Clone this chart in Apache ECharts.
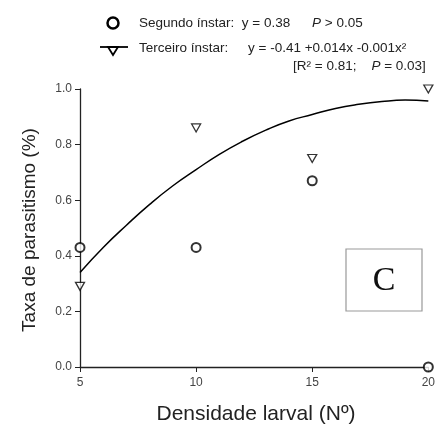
<!DOCTYPE html>
<html lang="pt">
<head>
    <meta charset="UTF-8">
    <title>Taxa de parasitismo</title>
    <script type="text/javascript" src="https://cdn.jsdelivr.net/npm/echarts@6/dist/echarts.min.js"></script>
    <style>
        html, body { margin: 0; padding: 0; background: #fff; }
    </style>
</head>
<body>
    <div id="main" style="width: 438px;height:432px;"></div>
    <script type="text/javascript">

        // densidade larval
        var densidade = [5, 10, 15, 20];
        // segundo instar (circulos)
        var segundo = [0.43, 0.43, 0.67, 0.0];
        // terceiro instar (triangulos)
        var terceiro = [0.29, 0.86, 0.75, 1.0];
        // curva ajustada
        var curvaX = [5, 6, 7, 8, 9, 10, 11, 12, 13, 14, 15, 16, 17, 18, 19, 20];
        var curvaY = [0.34, 0.43, 0.51, 0.585, 0.652, 0.71, 0.765, 0.812, 0.852, 0.885, 0.908, 0.93, 0.945, 0.955, 0.96, 0.957];
        var yTicks = [0, 0.2, 0.4, 0.6, 0.8, 1.0];

        var myChart = echarts.init(document.getElementById('main'));

        var font = 'Liberation Sans';

        var option = {
            animation: false,
            backgroundColor: '#fff',
            grid: { left: 80, right: 8, top: 89, bottom: 65 },
            xAxis: {
                type: 'value',
                min: 5, max: 20, interval: 5,
                axisLine: { lineStyle: { color: '#222', width: 1.3 } },
                axisTick: { show: true, length: 5, lineStyle: { color: '#222' } },
                axisLabel: { fontFamily: font, fontSize: 12, color: '#444', margin: 10 },
                splitLine: { show: false }
            },
            yAxis: {
                type: 'value',
                min: yTicks[0], max: yTicks[yTicks.length - 1], interval: 0.2,
                axisLine: { show: true, lineStyle: { color: '#222', width: 1.3 } },
                axisTick: { show: true, length: 5, lineStyle: { color: '#222' } },
                axisLabel: {
                    fontFamily: font, fontSize: 12, color: '#444', margin: 8,
                    formatter: function (v) { return v.toFixed(1); }
                },
                splitLine: { show: false }
            },
            series: [
                {
                    name: 'Curva',
                    type: 'line',
                    smooth: true,
                    showSymbol: false,
                    lineStyle: { color: '#000', width: 1.5 },
                    data: curvaX.map(function (x, i) { return [x, curvaY[i]]; }),
                    z: 1
                },
                {
                    name: 'Segundo ínstar',
                    type: 'scatter',
                    symbol: 'circle',
                    symbolSize: 9,
                    itemStyle: { color: '#fff', borderColor: '#000', borderWidth: 2 },
                    data: densidade.map(function (x, i) { return [x, segundo[i]]; }),
                    z: 3
                },
                {
                    name: 'Terceiro ínstar',
                    type: 'scatter',
                    symbol: 'path://M0,0 L10,0 L5,9 Z',
                    symbolSize: [9, 8],
                    itemStyle: { color: '#fff', borderColor: '#000', borderWidth: 1.3 },
                    data: densidade.map(function (x, i) { return [x, terceiro[i]]; }),
                    z: 3
                }
            ],
            graphic: [
                // nomes dos eixos
                { type: 'text', x: 30, y: 230, rotation: Math.PI / 2,
                  style: { text: 'Taxa de parasitismo (%)', fontFamily: font, fontSize: 19, fill: '#222',
                           align: 'center', verticalAlign: 'middle' } },
                { type: 'text', x: 256, y: 414,
                  style: { text: 'Densidade larval (Nº)', fontFamily: font, fontSize: 21, fill: '#222',
                           align: 'center', verticalAlign: 'middle' } },
                // legenda
                { type: 'circle', shape: { cx: 113, cy: 23, r: 5.5 },
                  style: { fill: '#fff', stroke: '#000', lineWidth: 2.5 } },
                { type: 'text', x: 139, y: 23,
                  style: { text: 'Segundo ínstar:  y = 0.38', fontFamily: font, fontSize: 13.5, fill: '#222', verticalAlign: 'middle' } },
                { type: 'text', x: 312, y: 23,
                  style: { text: '{i|P} > 0.05', fontFamily: font, fontSize: 13.5, fill: '#222', verticalAlign: 'middle',
                           rich: { i: { fontStyle: 'italic', fontFamily: font, fontSize: 13.5, fill: '#222' } } } },
                { type: 'line', shape: { x1: 100, y1: 47, x2: 128, y2: 47 },
                  style: { stroke: '#000', lineWidth: 1.8 } },
                { type: 'polygon', shape: { points: [[108, 47], [118, 47], [113, 55]] },
                  style: { fill: '#fff', stroke: '#000', lineWidth: 1.8 } },
                { type: 'text', x: 139, y: 48,
                  style: { text: 'Terceiro ínstar:', fontFamily: font, fontSize: 13.5, fill: '#222', verticalAlign: 'middle' } },
                { type: 'text', x: 248, y: 48,
                  style: { text: 'y = -0.41 +0.014x -0.001x²', fontFamily: font, fontSize: 13.5, fill: '#222', verticalAlign: 'middle' } },
                { type: 'text', x: 293, y: 66,
                  style: { text: '[R² = 0.81;    {i|P} = 0.03]', fontFamily: font, fontSize: 13.5, fill: '#222', verticalAlign: 'middle',
                           rich: { i: { fontStyle: 'italic', fontFamily: font, fontSize: 13.5, fill: '#222' } } } },
                // caixa C
                { type: 'rect', shape: { x: 346, y: 249, width: 76, height: 62 },
                  style: { fill: '#fff', stroke: '#999', lineWidth: 1.2 } },
                { type: 'text', x: 384, y: 281,
                  style: { text: 'C', fontFamily: 'Liberation Serif', fontSize: 34, fill: '#111',
                           align: 'center', verticalAlign: 'middle' } }
            ]
        };

        myChart.setOption(option);

    </script>
</body>
</html>
